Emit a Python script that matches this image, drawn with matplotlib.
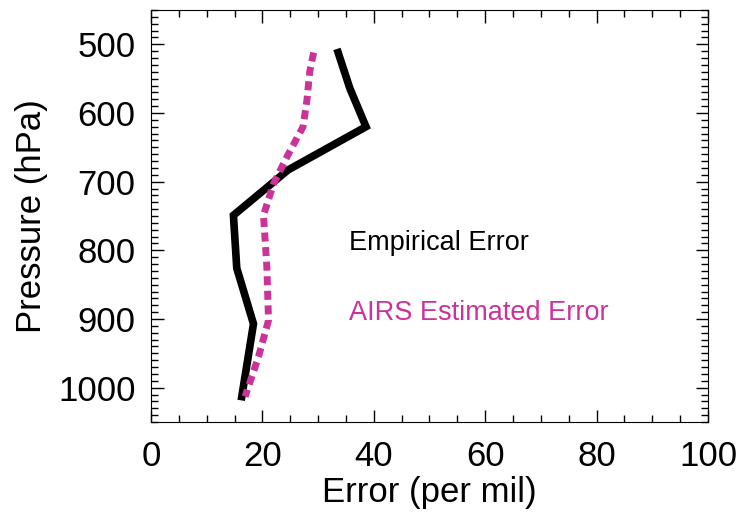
import numpy as np
import matplotlib
matplotlib.use("Agg")
import matplotlib.pyplot as plt
from matplotlib.ticker import MultipleLocator

# pressure levels (hPa) and errors (per mil)
pressure = [512, 564, 620, 683, 749, 826, 907, 1013]
empirical_error = [33.6, 35.7, 38.6, 24.6, 14.8, 15.4, 18.4, 16.3]
airs_pressure = [512, 540, 581, 620, 664, 703, 749, 824, 902, 955, 1013]
airs_error = [29.2, 28.5, 28.0, 27.3, 24.4, 22.0, 20.2, 20.8, 21.1, 19.3, 16.9]

magenta = "#cc3399"

plt.rcParams["font.family"] = ["Liberation Sans", "DejaVu Sans"]
fig = plt.figure(figsize=(7.38, 5.12), dpi=100)
ax = fig.add_axes([0.2046, 0.1758, 0.7547, 0.8047])

ax.plot(empirical_error, pressure, color="black", lw=5.5, solid_joinstyle="miter")
ax.plot(airs_error, airs_pressure, color=magenta, lw=5, linestyle=(0, (1.3, 0.8)),
        dash_capstyle="butt")

ax.text(35.5, 790, "Empirical Error", color="black", fontsize=19.5, va="center")
ax.text(35.5, 892, "AIRS Estimated Error", color=magenta, fontsize=19.5, va="center")

ax.set_xlim(0, 100)
ax.set_ylim(1050, 450)
ax.xaxis.set_major_locator(MultipleLocator(20))
ax.xaxis.set_minor_locator(MultipleLocator(5))
ax.yaxis.set_major_locator(MultipleLocator(100))
ax.yaxis.set_minor_locator(MultipleLocator(10))
ax.tick_params(which="both", direction="in", top=True, right=True, width=1)
ax.tick_params(which="major", length=9, labelsize=25)
ax.tick_params(axis="x", which="major", pad=13)
ax.tick_params(axis="y", which="major", pad=11)
ax.tick_params(which="minor", length=5)

ax.set_xlabel("Error (per mil)", fontsize=25, labelpad=2)
ax.set_ylabel("Pressure (hPa)", fontsize=25, labelpad=7)

fig.savefig("out.png", dpi=100)
